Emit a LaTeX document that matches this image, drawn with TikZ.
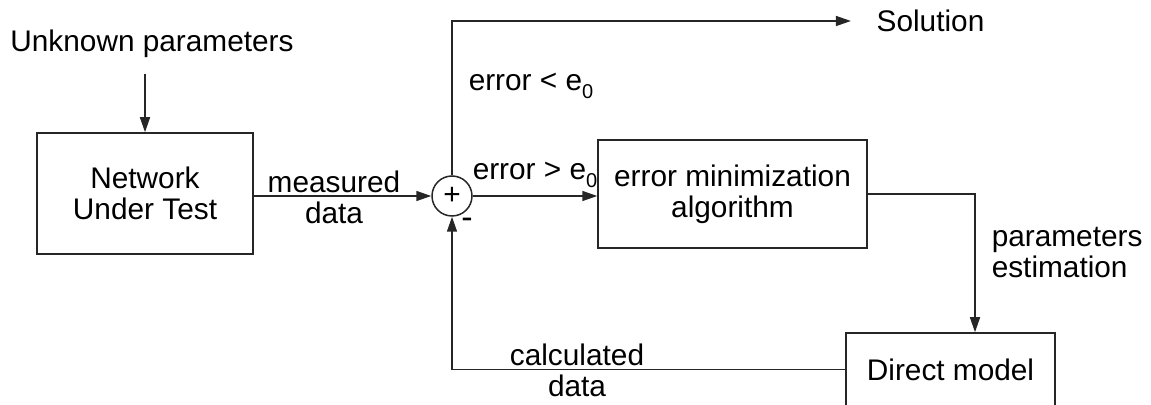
\documentclass[tikz,border=0pt]{standalone}
\usepackage{fontspec}
\setmainfont{Liberation Sans}
\usetikzlibrary{arrows.meta}

\newcommand{\esub}[1]{e\raisebox{-0.45ex}{\fontsize{10pt}{10pt}\selectfont #1}}

\begin{document}
\begin{tikzpicture}[x=0.5pt,y=-0.5pt,font=\fontsize{14.9pt}{15.5pt}\selectfont,
  line width=0.75pt,draw=black!85,
  blk/.style={draw,align=center,inner sep=0pt},
  lbl/.style={align=center,inner sep=0pt},
  arr/.style={-{Triangle[length=7.5pt,width=5pt]}}]
\useasboundingbox (0,0) rectangle (1151,405);
\clip (0,0) rectangle (1151,405);
\node[lbl,anchor=base] (unk) at (152,52) {Unknown parameters};
\node[blk,minimum width=108pt,minimum height=60.5pt] (net) at (145,193.5) {Network\\Under Test};
\node[draw,circle,minimum size=20pt,inner sep=0pt] (sum) at (452,196) {+};
\node[lbl] (minus) at (467,223) {\fontsize{17pt}{17pt}\selectfont -};
\node[blk,minimum width=134.5pt,minimum height=54pt] (err) at (732.5,194) {error minimization\\algorithm};
\node[blk,minimum width=104.5pt,minimum height=36.5pt] (dm) at (950.5,369.5) {Direct model};
\node[lbl,inner xsep=12.5pt] (sol) at (930.5,21) {Solution};
\node[lbl] (meas) at (334,197) {measured\\data};
\node[lbl,anchor=base west] (lt) at (468,91) {error < \esub{0}};
\node[lbl,anchor=base west] (gt) at (472,180) {error > \esub{0}};
\node[lbl,align=left,anchor=west] (par) at (991,253) {parameters\\estimation};
\node[lbl] (calc) at (577,370) {calculated\\data};
\draw[arr] (net.north |- unk.south) ++(0,15) -- (net.north);
\draw[arr] (net.east |- sum) -- (sum.west);
\draw[arr] (sum.east) -- (sum.east -| err.west);
\draw[arr] (sum.north) |- (sol.west);
\draw[arr] (err.east) -| ([xshift=12.25pt]dm.north);
\draw[arr] (dm.west) -| (sum.south);
\end{tikzpicture}
\end{document}
